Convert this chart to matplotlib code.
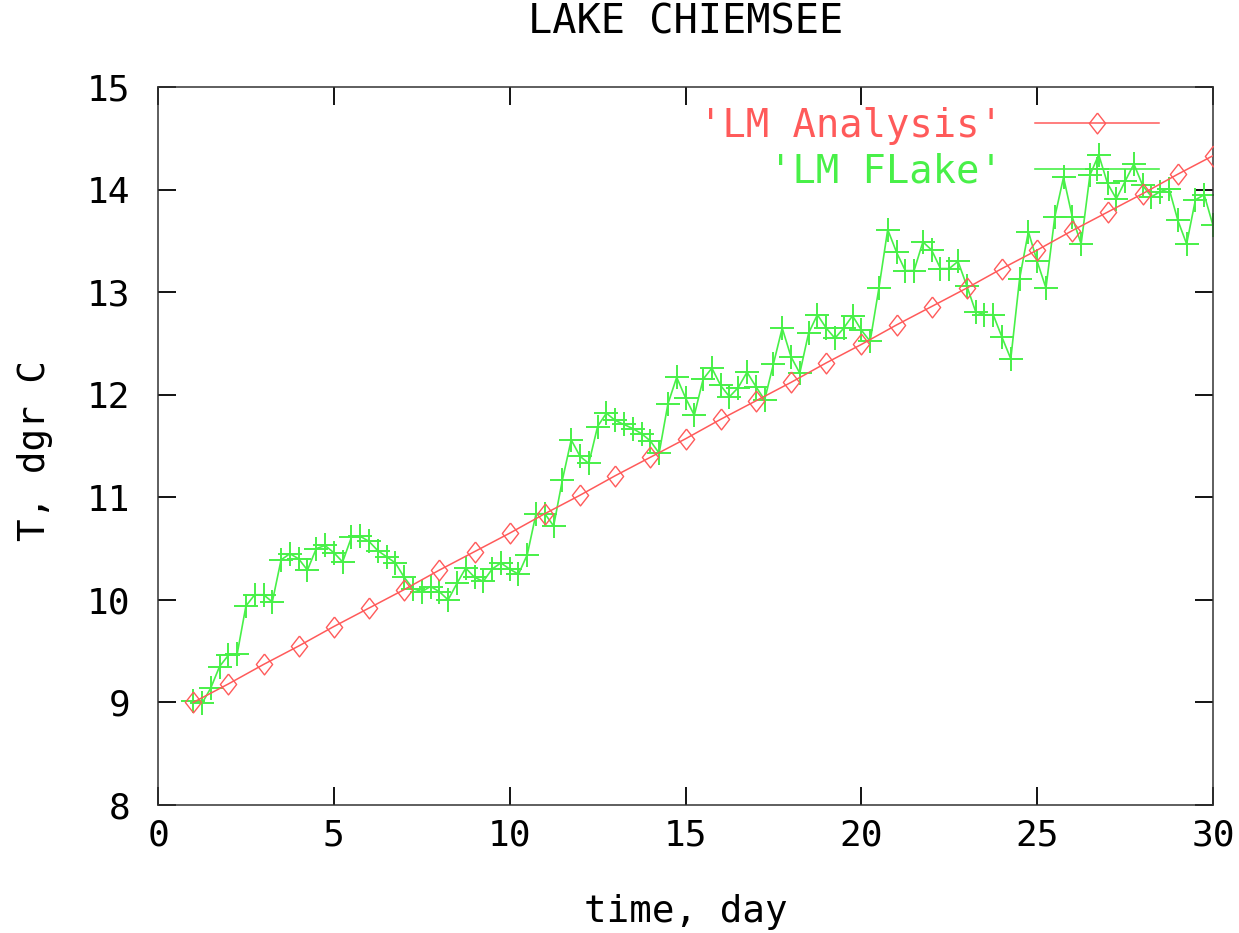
import numpy as np
import matplotlib
matplotlib.use("Agg")
import matplotlib.pyplot as plt

# Daily analysed surface temperature
analysis_day = list(range(1, 31))
analysis_temp = [9.00, 9.18, 9.37, 9.55, 9.74, 9.92, 10.10, 10.29, 10.47, 10.65,
                 10.84, 11.02, 11.21, 11.39, 11.57, 11.76, 11.94, 12.12, 12.31, 12.49,
                 12.68, 12.86, 13.04, 13.23, 13.41, 13.60, 13.78, 13.96, 14.15, 14.33]

# 6-hourly FLake model temperature
flake_time = np.arange(1.0, 30.01, 0.25)
flake_temp = [
    9.01, 8.99, 9.14, 9.35,
    9.46, 9.47, 9.94, 10.05,
    10.05, 9.98, 10.39, 10.45,
    10.40, 10.29, 10.50, 10.53,
    10.46, 10.37, 10.61, 10.62,
    10.57, 10.48, 10.42, 10.36,
    10.22, 10.11, 10.08, 10.13,
    10.08, 10.00, 10.16, 10.31,
    10.22, 10.18, 10.30, 10.36,
    10.30, 10.25, 10.44, 10.84,
    10.84, 10.72, 11.17, 11.56,
    11.40, 11.33, 11.69, 11.82,
    11.75, 11.71, 11.67, 11.62,
    11.55, 11.43, 11.91, 12.17,
    11.97, 11.80, 12.15, 12.26,
    12.09, 11.98, 12.07, 12.22,
    12.08, 11.95, 12.30, 12.65,
    12.37, 12.21, 12.60, 12.78,
    12.65, 12.55, 12.65, 12.77,
    12.63, 12.52, 13.04, 13.61,
    13.39, 13.21, 13.21, 13.49,
    13.41, 13.23, 13.23, 13.30,
    13.06, 12.81, 12.78, 12.78,
    12.56, 12.35, 13.13, 13.59,
    13.30, 13.04, 13.73, 14.12,
    13.73, 13.47, 14.14, 14.34,
    14.06, 13.91, 14.08, 14.25,
    14.04, 13.93, 13.98, 14.01,
    13.70, 13.47, 13.90, 13.95,
    13.65,
]

x_ticks = [0, 5, 10, 15, 20, 25, 30]
y_ticks = [8, 9, 10, 11, 12, 13, 14, 15]

RED = "#ff5a5a"
GREEN = "#48f048"
FONT = "DejaVu Sans Mono"

# open diamond, slightly narrower than tall
DIAMOND = [(0, 1), (0.78, 0), (0, -1), (-0.78, 0), (0, 1)]

plt.rcParams["font.family"] = FONT

fig = plt.figure(figsize=(12.39, 9.33), dpi=100)
ax = fig.add_axes([158 / 1239, 1 - 805 / 933, (1213 - 158) / 1239, (805 - 87) / 933])

ax.plot(analysis_day, analysis_temp, color=RED, lw=1.1, marker=DIAMOND, ms=15,
        mfc="none", mec=RED, mew=1.0, label="'LM Analysis'", zorder=3)
ax.plot(flake_time, flake_temp, color=GREEN, lw=1.2, marker="+", ms=17,
        mew=1.4, label="'LM FLake'", zorder=2)

ax.set_xlim(0, 30)
ax.set_ylim(8, 15)
ax.set_xticks(x_ticks)
ax.set_yticks(y_ticks)
ax.tick_params(direction="in", length=13, width=1.3, top=True, right=True,
               labelsize=26, colors="black")
ax.tick_params(axis="y", pad=20)
ax.tick_params(axis="x", pad=10)
for s in ax.spines.values():
    s.set_color("#333333")
    s.set_linewidth(1.1)

ax.set_xlabel("time, day", fontsize=27)
ax.xaxis.set_label_coords(0.5, -0.149)
ax.xaxis.label.set_va("center")
ax.set_ylabel("T, dgr C", fontsize=27)
ax.yaxis.set_label_coords(-0.117, 0.494)
ax.yaxis.label.set_va("center")

fig.text(685.5 / 1239, 1 - 22 / 933, "LAKE CHIEMSEE", fontsize=29,
         ha="center", va="center")

leg = ax.legend(loc="upper right", markerfirst=False, frameon=False, fontsize=28,
                labelcolor="linecolor", handlelength=3.2, numpoints=1,
                handletextpad=0.82, labelspacing=0.2,
                bbox_to_anchor=(0.975, 1.01), borderaxespad=0.3)

fig.savefig("out.png", dpi=100, facecolor="white")
